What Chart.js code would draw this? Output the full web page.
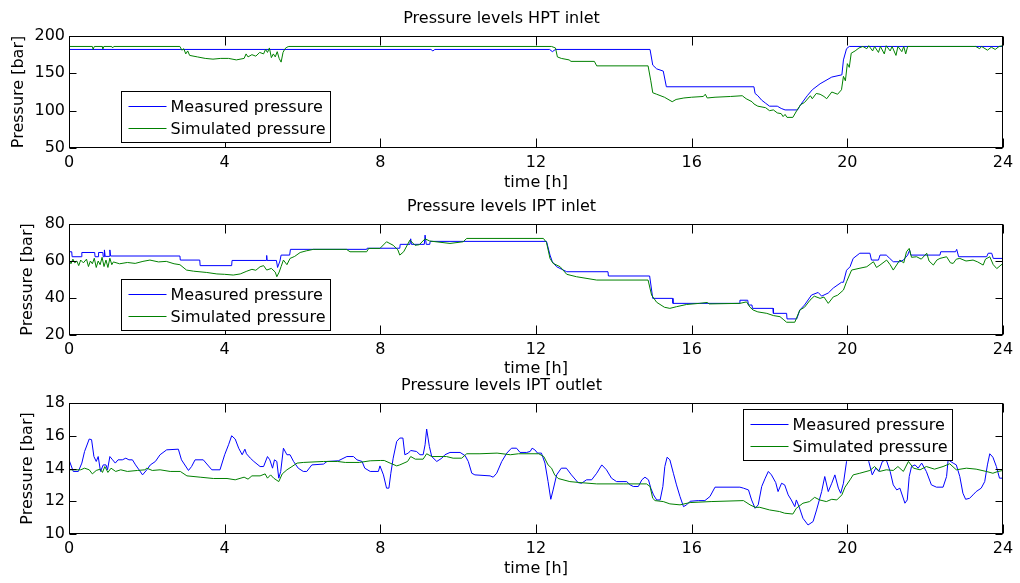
<!DOCTYPE html>
<html>
<head>
<meta charset="utf-8">
<title>Pressure levels</title>
<script src="https://cdn.jsdelivr.net/npm/chart.js@4.4.1/dist/chart.umd.min.js"></script>
<style>
  html, body { margin: 0; padding: 0; background: #fff; }
  #wrap { position: relative; width: 1020px; height: 583px; overflow: hidden; }
  canvas { position: absolute; left: 0; }
</style>
</head>
<body>
<div id="wrap">
  <canvas id="hpt" width="1020" height="200" style="top:0px"></canvas>
  <canvas id="iptIn" width="1020" height="195" style="top:190px"></canvas>
  <canvas id="iptOut" width="1020" height="213" style="top:370px"></canvas>
</div>
<script>
// tick labels
const timeTicks = [0, 4, 8, 12, 16, 20, 24];
const hptTicks = [50, 100, 150, 200];
const iptInTicks = [20, 40, 60, 80];
const iptOutTicks = [10, 12, 14, 16, 18];
const seriesNames = ['Measured pressure', 'Simulated pressure'];
const seriesColors = ['#0000ff', '#008000'];

// [time h, pressure bar]
const hptMeasured = [[0,182],[9.3,182],[9.35,180],[9.4,182],[12.35,182],[12.42,179],[12.5,182],[14.93,182],[15.0,161],[15.1,156],[15.27,153],[15.35,132],[17.6,132],[17.63,123],[17.7,120],[17.8,114],[17.9,110],[18.0,106],[18.2,106],[18.3,103],[18.4,101],[18.72,101],[18.8,108],[18.97,120],[19.1,128],[19.3,136],[19.6,145],[19.86,148],[19.9,168],[19.98,183],[20.05,186],[24,186]];
const hptSimulated = [[0,186],[0.6,186],[0.62,182],[0.65,186],[0.85,186],[0.87,183],[0.9,186],[1.1,186],[1.12,184],[1.15,186],[2.85,186],[2.9,181],[2.95,183],[3.0,176],[3.05,180],[3.1,174],[3.3,172],[3.5,170],[3.7,169],[3.9,170],[4.1,170],[4.3,168],[4.5,170],[4.55,176],[4.6,172],[4.7,175],[4.8,173],[4.9,178],[5.0,176],[5.05,182],[5.1,178],[5.15,184],[5.2,171],[5.25,176],[5.3,172],[5.35,179],[5.4,170],[5.45,165],[5.5,178],[5.55,183],[5.6,185],[5.65,186],[12.4,186],[12.5,184],[12.55,172],[12.65,170],[12.85,168],[12.9,166],[13.5,166],[13.56,160],[14.88,160],[14.95,140],[15.0,124],[15.1,122],[15.3,118],[15.5,112],[15.6,115],[15.8,117],[16.0,118],[16.3,119],[16.35,122],[16.4,117],[16.6,118],[17.0,119],[17.3,120],[17.4,116],[17.55,112],[17.6,109],[17.7,106],[17.9,104],[18.0,100],[18.1,101],[18.2,97],[18.3,96],[18.35,92],[18.4,95],[18.45,91],[18.6,91],[18.7,100],[18.8,108],[18.9,111],[19.05,120],[19.1,116],[19.2,123],[19.3,122],[19.4,119],[19.47,116],[19.6,125],[19.75,122],[19.85,128],[19.9,146],[19.95,140],[20.0,163],[20.05,158],[20.1,177],[20.2,180],[20.3,184],[20.4,186],[20.5,183],[20.55,187],[20.65,180],[20.7,186],[20.8,178],[20.85,186],[20.95,176],[21.0,187],[21.1,180],[21.15,186],[21.25,174],[21.3,186],[21.4,179],[21.45,186],[21.5,176],[21.55,186],[23.3,186],[23.4,183],[23.45,186],[23.6,181],[23.7,185],[23.8,182],[23.9,186],[24,187]];

const iptInMeasured = [[0,65],[0.07,65],[0.08,62.3],[0.32,62.3],[0.33,64.6],[0.66,64.6],[0.67,62.3],[0.75,62.3],[0.76,64.6],[0.87,64.6],[0.88,62.3],[0.9,62.3],[0.91,66],[0.93,62.5],[1.04,62.5],[1.05,66],[1.07,62.7],[2.85,62.7],[2.86,60.5],[3.36,60.5],[3.37,57.5],[4.18,57.5],[4.19,60.3],[5.07,60.3],[5.08,63],[5.09,60.3],[5.33,60.3],[5.36,56.5],[5.42,60],[5.45,63.2],[5.67,63.2],[5.69,66.3],[7.65,66.3],[7.66,66.9],[8.5,66.9],[8.51,69],[8.76,69],[8.78,72],[8.8,69],[9.13,69],[9.15,74],[9.18,69],[9.27,69],[9.28,70.6],[12.27,70.6],[12.36,63.2],[12.42,59.6],[12.53,56.9],[12.79,54.2],[13.85,54.2],[13.86,51.9],[14.92,51.9],[15.0,39.8],[15.51,39.8],[15.52,37.1],[17.23,37.1],[17.24,38.8],[17.44,38.8],[17.46,36.2],[17.55,36.2],[17.56,34.4],[18.09,34.4],[18.1,31.7],[18.44,31.7],[18.45,28.7],[18.7,28.7],[18.78,33.5],[18.9,36.2],[19.08,41.6],[19.25,43],[19.34,41],[19.51,42.7],[19.64,45.4],[19.85,48.5],[19.9,48.5],[19.98,55],[20.07,56.9],[20.15,61.4],[20.32,64.2],[20.58,64.2],[20.62,60.5],[20.8,60.5],[20.84,63.2],[21.0,63.2],[21.09,61.4],[21.18,59.6],[21.35,59.6],[21.44,60.5],[21.55,63.2],[21.6,65.9],[21.63,63.2],[22.38,63.2],[22.4,65],[22.78,65],[22.81,66.3],[22.86,62.3],[23.58,62.3],[23.62,64.2],[23.71,64.2],[23.75,61.4],[24,61.4]];
const iptInSimulated = [[0,60.5],[0.05,58.5],[0.1,61],[0.15,59],[0.2,60],[0.25,57.5],[0.3,60.5],[0.37,59],[0.45,61],[0.5,57],[0.55,60],[0.6,58.5],[0.65,61.5],[0.7,56.5],[0.75,60],[0.8,58],[0.85,62],[0.9,57],[0.95,60.5],[1.0,56.5],[1.05,61.5],[1.1,58],[1.14,59.5],[1.3,58.5],[1.5,59.2],[1.7,58.7],[1.9,59.8],[2.08,60.5],[2.3,59.5],[2.5,59.8],[2.7,58.5],[2.85,58],[3.02,55.1],[3.2,54.5],[3.54,53.8],[3.8,53],[4.0,52.8],[4.22,52.4],[4.4,53],[4.57,54.5],[4.7,55.5],[4.8,55],[4.91,56.9],[5.0,57.5],[5.08,55.1],[5.2,56],[5.3,54],[5.34,51.5],[5.4,54],[5.45,57],[5.51,60.5],[5.6,58],[5.68,61.4],[5.8,62.5],[5.94,64.6],[6.1,65.5],[6.28,66.3],[7.13,66.3],[7.22,65],[7.65,65],[7.7,66.8],[7.99,66.8],[8.16,70.4],[8.33,68.5],[8.45,66],[8.5,63.2],[8.6,65],[8.76,71.3],[8.89,68.5],[9.0,68.8],[9.15,72],[9.27,70.8],[9.79,69.5],[10.13,70.4],[10.22,72.2],[12.19,72.2],[12.27,70],[12.36,61.4],[12.44,58.7],[12.62,56.9],[12.79,52.8],[13.04,51.5],[13.56,49.7],[14.88,49.7],[14.97,41.6],[15.1,37.7],[15.3,35],[15.44,34.4],[15.61,35.3],[15.87,36.5],[16.2,37.1],[16.4,37.6],[16.45,36.8],[17.24,37.1],[17.41,37.9],[17.5,35],[17.58,33.5],[17.7,32.5],[17.93,31.7],[18.1,30.5],[18.27,29.9],[18.35,28.5],[18.44,26.9],[18.65,26.9],[18.78,33.5],[18.9,35],[19.04,38.8],[19.15,41],[19.3,39.8],[19.4,40.5],[19.51,37.1],[19.64,40.6],[19.75,41.5],[19.9,44.3],[19.98,48.8],[20.11,55.1],[20.3,56],[20.5,56.9],[20.67,59.6],[20.75,56.5],[20.84,57.8],[21.01,60.5],[21.1,58],[21.18,55.1],[21.35,60.5],[21.45,59],[21.52,65],[21.59,66.8],[21.65,62],[21.78,62.3],[21.9,61],[22.04,64.2],[22.1,60],[22.21,57.8],[22.3,60.5],[22.38,61.4],[22.55,62.3],[22.65,59],[22.72,58.7],[22.8,61],[22.89,61.4],[23.05,60],[23.23,60.5],[23.35,59.5],[23.49,57.8],[23.55,61],[23.66,62.3],[23.75,58],[23.84,55.9],[24,58.7]];

const iptOutMeasured = [[0,14.53],[0.11,13.82],[0.24,13.82],[0.33,14.33],[0.4,15.04],[0.52,15.8],[0.58,15.76],[0.64,14.73],[0.7,14.43],[0.75,14.73],[0.81,13.82],[0.88,14.22],[0.95,14.22],[0.99,13.92],[1.05,14.73],[1.12,14.53],[1.19,14.33],[1.26,14.53],[1.37,14.53],[1.46,14.63],[1.54,14.53],[1.63,14.53],[1.71,14.22],[1.8,13.92],[1.89,13.61],[2.0,13.92],[2.09,14.22],[2.22,14.43],[2.34,14.84],[2.51,15.14],[2.81,15.18],[2.89,14.53],[3.07,13.88],[3.15,14.12],[3.24,14.53],[3.45,14.53],[3.67,13.92],[3.88,13.92],[4.0,14.84],[4.1,15.45],[4.18,16.0],[4.27,15.8],[4.36,15.24],[4.45,14.84],[4.52,15.18],[4.56,14.9],[4.66,14.63],[4.75,14.43],[4.91,14.12],[5.0,14.12],[5.1,14.73],[5.16,14.53],[5.23,14.02],[5.28,14.53],[5.34,14.43],[5.39,13.41],[5.44,13.82],[5.51,15.24],[5.6,14.84],[5.68,14.84],[5.77,14.43],[5.89,14.02],[6.02,13.82],[6.11,13.82],[6.24,14.22],[6.54,14.27],[6.63,14.43],[6.92,14.47],[7.14,14.73],[7.31,14.73],[7.4,14.53],[7.53,14.43],[7.6,14.02],[7.74,13.82],[7.95,13.82],[7.99,14.16],[8.08,13.61],[8.16,12.8],[8.22,12.8],[8.27,13.71],[8.33,14.63],[8.42,15.65],[8.5,15.86],[8.58,15.86],[8.63,14.84],[8.72,14.94],[8.78,15.1],[8.93,15.04],[9.02,14.84],[9.1,14.84],[9.15,15.45],[9.19,16.41],[9.26,15.35],[9.32,14.73],[9.45,14.43],[9.58,14.63],[9.66,14.84],[9.79,14.98],[10.05,14.98],[10.18,14.78],[10.26,14.43],[10.35,13.71],[10.43,13.61],[10.82,13.55],[10.9,13.47],[10.99,13.71],[11.12,14.43],[11.25,14.94],[11.37,15.24],[11.5,15.24],[11.59,14.98],[11.76,14.98],[11.85,15.04],[11.9,15.24],[11.97,15.14],[12.04,14.94],[12.14,14.94],[12.23,14.33],[12.31,13.2],[12.38,12.12],[12.44,12.69],[12.53,13.61],[12.65,14.02],[12.78,14.02],[12.91,13.61],[13.08,13.14],[13.17,13.1],[13.3,13.31],[13.43,13.31],[13.56,13.71],[13.69,14.22],[13.81,13.92],[13.94,13.41],[14.07,13.2],[14.33,13.2],[14.42,13.0],[14.5,12.9],[14.63,12.9],[14.72,13.31],[14.8,13.47],[14.89,13.31],[14.95,12.8],[15.02,12.39],[15.1,12.08],[15.19,12.08],[15.26,12.9],[15.31,14.12],[15.37,14.69],[15.44,14.53],[15.53,13.71],[15.61,13.0],[15.7,12.29],[15.79,11.67],[15.87,11.78],[15.96,12.0],[16.17,12.04],[16.34,12.04],[16.47,12.29],[16.6,12.86],[17.24,12.86],[17.33,12.8],[17.46,12.69],[17.54,12.08],[17.63,11.57],[17.71,11.78],[17.8,12.9],[17.89,13.41],[17.97,13.82],[18.05,13.61],[18.16,13.14],[18.22,12.59],[18.31,13.1],[18.39,13.0],[18.48,12.39],[18.56,12.08],[18.65,11.67],[18.69,12.08],[18.76,11.67],[18.86,10.96],[18.99,10.55],[19.12,10.76],[19.21,11.47],[19.34,12.59],[19.42,13.51],[19.51,12.59],[19.6,13.1],[19.68,13.61],[19.77,12.8],[19.83,12.49],[19.9,13.1],[19.98,14.43],[20.07,15.3],[20.15,15.1],[20.3,15.3],[20.45,14.9],[20.55,14.43],[20.64,13.61],[20.73,14.02],[20.81,13.82],[20.9,14.43],[21.0,14.53],[21.1,13.82],[21.18,13.0],[21.27,12.69],[21.35,12.8],[21.48,11.88],[21.54,12.08],[21.59,13.51],[21.65,14.12],[21.74,14.22],[21.82,14.02],[21.91,14.33],[22.03,13.82],[22.16,13.0],[22.29,12.86],[22.46,12.86],[22.55,13.51],[22.59,14.53],[22.72,14.33],[22.8,14.22],[22.89,13.51],[22.97,12.49],[23.04,12.12],[23.14,12.18],[23.23,12.39],[23.31,12.59],[23.44,12.8],[23.53,13.2],[23.6,14.22],[23.66,14.9],[23.74,14.69],[23.83,14.12],[23.91,13.41],[24,13.41]];
const iptOutSimulated = [[0,13.92],[0.3,13.92],[0.4,14.02],[0.52,13.92],[0.6,13.67],[0.7,13.88],[0.8,13.96],[0.86,13.76],[0.92,14.12],[1.0,13.76],[1.08,14.02],[1.2,13.82],[1.33,13.92],[1.5,13.82],[1.76,13.88],[1.95,13.92],[2.0,14.02],[2.14,13.88],[2.34,13.92],[2.6,13.82],[2.86,13.82],[3.03,13.55],[3.37,13.47],[3.71,13.39],[4.06,13.39],[4.27,13.31],[4.5,13.47],[4.6,13.35],[4.7,13.55],[4.91,13.55],[5.04,13.67],[5.1,13.41],[5.18,13.61],[5.26,13.41],[5.39,13.2],[5.48,13.67],[5.6,13.92],[5.73,14.12],[5.86,14.33],[6.02,14.37],[6.54,14.43],[6.9,14.43],[7.1,14.37],[7.46,14.37],[7.74,14.47],[8.0,14.49],[8.1,14.49],[8.25,14.33],[8.42,14.16],[8.5,14.22],[8.7,14.43],[8.78,14.73],[8.9,14.57],[9.1,14.57],[9.19,14.9],[9.32,14.73],[9.7,14.73],[9.87,14.63],[10.09,14.63],[10.22,14.9],[10.56,14.9],[11.0,14.94],[11.34,14.84],[11.55,14.9],[12.07,14.9],[12.2,14.73],[12.31,14.22],[12.4,14.02],[12.48,13.61],[12.57,13.39],[12.87,13.2],[13.13,13.14],[13.56,13.06],[14.24,13.06],[14.84,13.06],[14.93,12.9],[15.0,12.18],[15.06,12.04],[15.27,11.98],[15.44,11.84],[15.7,11.78],[15.96,11.92],[16.5,11.98],[17.33,12.04],[17.5,11.78],[17.63,11.63],[17.75,11.63],[18.0,11.47],[18.26,11.37],[18.39,11.27],[18.6,11.22],[18.69,11.57],[18.86,11.88],[19.03,11.98],[19.16,12.24],[19.29,12.08],[19.46,11.98],[19.6,12.12],[19.73,12.08],[19.86,12.39],[19.94,12.86],[20.07,13.31],[20.15,13.61],[20.32,13.71],[20.58,13.88],[20.7,14.12],[20.83,13.82],[21.0,13.92],[21.18,13.88],[21.3,14.12],[21.44,13.82],[21.57,14.43],[21.7,14.02],[21.87,13.92],[22.03,14.12],[22.24,13.96],[22.46,14.12],[22.63,14.29],[22.8,13.92],[23.06,14.02],[23.31,13.96],[23.57,13.82],[23.74,13.71],[23.87,13.82],[24,13.88]];

const FONT = 'DejaVu Sans';
Chart.defaults.font.family = FONT;
Chart.defaults.font.size = 16;
Chart.defaults.color = '#000';

// box round the axes, inward ticks on all four sides, legend with white fill
const matlabAxes = {
  id: 'matlabAxes',
  afterDatasetsDraw(chart, args, opts) {
    const { ctx, chartArea: a, scales: { x, y } } = chart;
    const l = Math.round(a.left) + 0.5, r = Math.round(a.right) - 0.5;
    const t = Math.round(a.top) + 0.5, b = Math.round(a.bottom) - 0.5;
    ctx.save();
    ctx.strokeStyle = '#000';
    ctx.lineWidth = 1;
    ctx.beginPath();
    x.ticks.forEach(tk => {
      const px = Math.round(x.getPixelForValue(tk.value)) + 0.5;
      ctx.moveTo(px, b); ctx.lineTo(px, b - 9);
      ctx.moveTo(px, t); ctx.lineTo(px, t + 9);
    });
    y.ticks.forEach(tk => {
      const py = Math.round(y.getPixelForValue(tk.value)) + 0.5;
      ctx.moveTo(l, py); ctx.lineTo(l + 7, py);
      ctx.moveTo(r, py); ctx.lineTo(r - 7, py);
    });
    ctx.stroke();
    ctx.strokeRect(l, t, r - l, b - t);

    // legend
    const lg = opts.legend;
    const bx = Math.round(a.left + lg.dx) + 0.5, by = Math.round(a.top + lg.dy) + 0.5;
    ctx.fillStyle = '#fff';
    ctx.fillRect(bx, by, 209, 51);
    ctx.strokeStyle = '#000';
    ctx.strokeRect(bx, by, 209, 51);
    ctx.font = '16px "' + FONT + '"';
    ctx.textBaseline = 'middle';
    seriesNames.forEach((name, i) => {
      const ly = by + 15 + i * 22;
      ctx.strokeStyle = seriesColors[i];
      ctx.beginPath();
      ctx.moveTo(bx + 7, ly); ctx.lineTo(bx + 45, ly);
      ctx.stroke();
      ctx.fillStyle = '#000';
      ctx.fillText(name, bx + 49, ly + 1);
    });
    ctx.restore();
  }
};

function toXY(pairs) {
  return pairs.map(([x, y]) => ({ x, y }));
}

function makeChart(id, title, measured, simulated, yTicks, lay) {
  return new Chart(document.getElementById(id), {
    type: 'line',
    data: {
      datasets: [
        { label: seriesNames[0], data: toXY(measured), borderColor: seriesColors[0], borderWidth: 1, pointRadius: 0, order: 1 },
        { label: seriesNames[1], data: toXY(simulated), borderColor: seriesColors[1], borderWidth: 1, pointRadius: 0, order: 0 }
      ]
    },
    options: {
      responsive: false,
      animation: false,
      devicePixelRatio: 1,
      layout: { padding: { left: 0, right: 17, top: 0, bottom: 0 } },
      elements: { line: { tension: 0 } },
      plugins: {
        legend: { display: false },
        tooltip: { enabled: false },
        title: {
          display: true,
          text: title,
          font: { size: 16, weight: 'normal' },
          color: '#000',
          padding: { top: lay.titleY - 9.6, bottom: lay.areaTop - lay.titleY - 9.6 }
        },
        matlabAxes: { legend: lay.legend }
      },
      scales: {
        x: {
          type: 'linear',
          min: timeTicks[0],
          max: timeTicks[timeTicks.length - 1],
          afterBuildTicks: s => { s.ticks = timeTicks.map(v => ({ value: v })); },
          afterFit: s => { s.height = lay.height - lay.areaBottom; },
          grid: { display: false, drawTicks: false },
          border: { display: false },
          ticks: { padding: 5, maxRotation: 0, autoSkip: false, color: '#000' },
          title: { display: true, text: 'time [h]', color: '#000', padding: { top: 0, bottom: lay.height - lay.xTitleY - 9.6 } }
        },
        y: {
          min: yTicks[0],
          max: yTicks[yTicks.length - 1],
          afterBuildTicks: s => { s.ticks = yTicks.map(v => ({ value: v })); },
          afterFit: s => { s.width = 69; },
          grid: { display: false, drawTicks: false },
          border: { display: false },
          ticks: { padding: 4, autoSkip: false, color: '#000' },
          title: { display: true, text: 'Pressure [bar]', color: '#000', padding: { top: lay.yTitleX - 9.6, bottom: 0 } }
        }
      }
    },
    plugins: [matlabAxes]
  });
}

makeChart('hpt', 'Pressure levels HPT inlet', hptMeasured, hptSimulated, hptTicks,
  { height: 200, titleY: 18.5, areaTop: 36, areaBottom: 148, xTitleY: 182.5, yTitleX: 18.5, legend: { dx: 52, dy: 55 } });
makeChart('iptIn', 'Pressure levels IPT inlet', iptInMeasured, iptInSimulated, iptInTicks,
  { height: 195, titleY: 16.5, areaTop: 34, areaBottom: 145, xTitleY: 178.5, yTitleX: 28, legend: { dx: 52, dy: 55 } });
makeChart('iptOut', 'Pressure levels IPT outlet', iptOutMeasured, iptOutSimulated, iptOutTicks,
  { height: 213, titleY: 15.5, areaTop: 33, areaBottom: 164, xTitleY: 198.5, yTitleX: 28, legend: { dx: 674, dy: 6 } });
</script>
</body>
</html>
